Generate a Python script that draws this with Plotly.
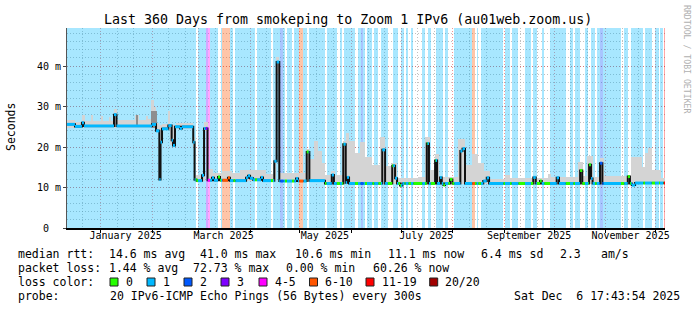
import pandas as pd
import plotly.graph_objects as go

# ---------------- data ----------------
end_time = "2025-12-06 17:43:54"
span_days = 360

loss_names = ["0", "1", "2", "3", "4-5", "6-10", "11-19", "20/20"]
loss_colors = ["#26ff00", "#00b8ff", "#0059ff", "#7e00ff", "#ff00ff", "#ff5500", "#ff0000", "#a10000"]

# loss periods: start (days after graph start) and loss colour index
loss_start_day = [0.0, 77.4, 78.9, 83.5, 84.8, 86.1, 90.9, 92.7, 93.6, 98.1, 100.1, 101.4, 113.2, 114.4,
                  122.8, 124.0, 128.5, 130.2, 131.2, 132.4, 135.5, 136.8, 139.8, 142.3, 144.2, 145.5,
                  155.3, 156.3, 162.4, 164.3, 165.6, 166.5, 173.4, 175.2, 176.8, 178.4, 179.4, 180.6,
                  183.8, 185.0, 187.4, 189.0, 193.1, 196.4, 199.4, 201.1, 203.1, 203.9, 205.5, 207.1,
                  208.5, 213.9, 215.5, 217.1, 218.9, 222.0, 226.5, 227.6, 229.5, 233.2, 244.0, 245.6,
                  246.6, 247.6, 249.2, 262.7, 263.7, 266.7, 267.7, 271.7, 275.7, 279.3, 280.7, 282.8,
                  285.8, 287.3, 290.8, 300.2, 302.8, 304.8, 305.8, 308.8, 311.8, 313.8, 315.4, 317.9,
                  318.9, 320.6, 322.9, 333.5, 335.5, 337.5, 339.5, 346.9, 348.0, 352.0, 354.0, 356.4,
                  357.0, 359.0, 359.3]
loss_level = [1, 0, 1, 3, 4, 1, 0, 1, 5, 1, 0, 1, 0, 1,
              0, 1, 2, 1, 0, 1, 0, 1, 5, 1, 0, 1,
              0, 1, 0, 1, 0, 1, 0, 1, 2, 1, 0, 1,
              0, 1, 0, 1, 0, 1, 0, 1, 0, 1, 0, 1,
              0, 1, 0, 1, 0, 1, 0, 1, 0, 1, 5, 0,
              1, 0, 1, 0, 1, 0, 1, 0, 1, 0, 1, 0,
              1, 0, 1, 0, 1, 0, 1, 0, 1, 0, 1, 0,
              1, 2, 1, 0, 1, 0, 1, 0, 1, 0, 1, 0,
              1, 0, 6]

# median RTT (step changes)
median_day = [0.0, 4.8, 9.0, 10.2, 28.3, 29.8, 51.2, 53.6, 55.6, 56.3, 57.2, 61.0, 63.0, 63.8, 65.0,
              68.0, 69.2, 76.0, 76.8, 78.1, 81.3, 82.5, 84.6, 87.3, 88.5, 90.9, 92.1, 96.9, 98.1,
              107.8, 109.0, 110.2, 112.0, 116.8, 118.0, 124.8, 126.2, 127.8, 137.9, 139.1, 144.3,
              145.9, 155.3, 159.4, 160.7, 166.3, 167.8, 168.6, 169.8, 189.8, 191.5, 195.8, 197.5,
              198.7, 200.5, 201.9, 216.6, 217.9, 221.6, 222.8, 224.6, 225.6, 226.6, 227.6, 230.6,
              232.0, 236.8, 238.1, 239.6, 250.6, 252.7, 254.1, 280.7, 282.2, 284.8, 285.8, 294.8,
              296.2, 308.9, 310.2, 314.3, 315.5, 316.4, 320.9, 322.3, 337.6, 338.9, 340.0, 342.0, 360.0]
median_ms = [25.6, 25.1, 26.0, 25.2, 28.0, 25.2, 25.6, 24.0, 12.0, 21.2, 24.5, 25.3, 21.7, 20.4, 25.0,
             24.6, 25.0, 21.2, 11.9, 11.7, 13.0, 24.6, 11.8, 12.4, 11.8, 12.6, 11.8, 12.4, 11.7,
             12.4, 12.9, 12.3, 11.9, 12.5, 11.7, 16.5, 41.0, 11.6, 12.2, 11.6, 18.8,
             11.7, 11.0, 13.1, 11.0, 20.7, 11.2, 12.5, 11.0, 19.3, 11.0, 15.4, 12.3,
             11.0, 10.5, 11.0, 20.9, 11.0, 16.7, 11.0, 12.5, 11.0, 10.6, 11.0, 12.0,
             11.0, 19.0, 19.6, 11.0, 11.6, 12.4, 11.0, 12.5, 11.0, 11.6, 11.0, 12.4,
             11.0, 14.2, 11.0, 15.6, 12.2, 11.0, 16.0, 11.0, 12.7, 11.0, 10.6, 11.1, 11.1]

# smoke (spread of the 20 pings): edges, low and high values
smoke_edge_day = [0.0, 4.8, 9.0, 10.8, 14.4, 15.7, 20.5, 21.7, 25.3, 26.5, 28.0, 30.1, 40.9, 43.3, 47.6,
                  48.8, 50.6, 52.1, 53.6, 55.4, 57.2, 60.8, 62.0, 65.6, 75.9, 77.1, 81.9, 82.5, 84.6,
                  87.9, 93.3, 99.3, 104.2, 119.8, 124.6, 126.1, 127.9, 143.9, 146.3, 148.7, 151.1,
                  153.5, 155.3, 158.9, 161.3, 166.2, 168.0, 169.8, 173.4, 176.4, 179.4, 183.6, 188.4,
                  191.4, 195.4, 198.7, 211.3, 215.5, 218.5, 221.6, 223.7, 235.4, 239.6, 243.8, 247.4,
                  251.1, 254.7, 263.7, 266.7, 289.6, 291.4, 307.6, 310.7, 313.1, 316.7, 320.9, 323.0,
                  339.6, 346.2, 348.0, 349.8, 351.9, 357.6, 360.0]
smoke_hi_ms = [26.8, 26.3, 28.0, 26.5, 27.8, 26.4, 27.6, 26.4, 27.5, 26.5, 29.5, 26.6, 27.8, 26.6,
               27.6, 27.0, 31.5, 30.0, 26.0, 25.5, 25.6, 28.8, 25.5, 25.9, 22.5, 13.2, 13.4, 26.3,
               14.5, 13.6, 14.0, 13.5, 14.3, 13.3, 17.0, 42.3, 13.5, 19.5, 17.0, 21.5, 19.0, 16.0,
               13.0, 14.0, 13.0, 21.5, 23.4, 21.5, 18.5, 21.3, 17.6, 15.5, 22.5, 15.2, 16.0, 12.3,
               12.6, 22.4, 14.4, 18.4, 12.6, 22.1, 15.5, 18.4, 16.0, 14.0, 12.2, 13.1, 12.3, 13.4,
               12.5, 16.3, 12.8, 17.9, 12.7, 17.4, 12.8, 17.5, 15.0, 18.5, 19.7, 14.4, 12.4]
smoke_lo_ms = [24.8, 24.8, 24.8, 24.8, 24.8, 24.8, 24.8, 24.8, 24.8, 24.8, 24.8, 24.8, 24.8, 24.8,
               24.8, 24.8, 24.8, 24.8, 23.8, 21.0, 24.3, 24.3, 20.4, 24.5, 20.0, 11.5, 11.5, 24.0,
               11.5, 11.5, 11.5, 11.5, 11.5, 11.5, 11.5, 38.0, 11.4, 11.4, 11.3, 11.3, 11.3, 11.3,
               10.8, 10.8, 10.8, 10.8, 10.8, 10.8, 10.8, 10.8, 10.8, 10.8, 10.8, 10.8, 10.8, 10.8,
               10.8, 10.8, 10.8, 10.8, 10.8, 10.8, 10.8, 10.8, 10.8, 10.8, 10.8, 10.8, 10.8, 10.8,
               10.8, 10.8, 10.8, 10.8, 10.8, 10.8, 10.8, 10.8, 10.8, 10.8, 10.8, 10.8, 10.8]
dark_smoke_start_day = [41.5, 50.8]
dark_smoke_end_day = [42.9, 53.9]
dark_smoke_lo_ms = [25.0, 24.8]
dark_smoke_hi_ms = [27.8, 28.8]

y_top_ms = 49.4
y_tick_vals = [0, 10, 20, 30, 40]
y_tick_text = ["0\u00a0\u00a0", "10 m", "20 m", "30 m", "40 m"]
month_starts = ["2025-01-01", "2025-02-01", "2025-03-01", "2025-04-01", "2025-05-01", "2025-06-01",
                "2025-07-01", "2025-08-01", "2025-09-01", "2025-10-01", "2025-11-01", "2025-12-01"]
x_label_dates = ["2025-01-16", "2025-03-16", "2025-05-16", "2025-07-16", "2025-09-16", "2025-11-16"]
x_label_text = ["January 2025", "March 2025", "May 2025", "July 2025", "September 2025", "November 2025"]

title_text = "Last 360 Days from smokeping to Zoom 1 IPv6 (au01web.zoom.us)"
rtt_label = "median rtt:"
rtt_stats = ["14.6 ms avg", "41.0 ms max", "10.6 ms min", "11.1 ms now", "6.4 ms sd", "2.3", "am/s"]
loss_label = "packet loss:"
loss_stats = ["1.44 % avg", "72.73 % max", "0.00 % min", "60.26 % now"]
color_label = "loss color:"
probe_label = "probe:"
probe_text = "20 IPv6-ICMP Echo Pings (56 Bytes) every 300s"
stamp_text = "Sat Dec\u00a0\u00a06 17:43:54 2025"
side_text = "RRDTOOL / TOBI OETIKER"

# ---------------- helpers ----------------
t_end = pd.Timestamp(end_time)
t_start = t_end - pd.Timedelta(days=span_days)
DAY_MS = 86400000.0


def tt(d):
    return t_start + pd.Timedelta(days=d)


def rgba(hexc, a):
    h = hexc.lstrip("#")
    return "rgba(%d,%d,%d,%.2f)" % (int(h[0:2], 16), int(h[2:4], 16), int(h[4:6], 16), a)


fig = go.Figure()

# loss background stripes
loss_end_day = loss_start_day[1:] + [span_days]
bx, bw, bc = [], [], []
for s, e, lvl in zip(loss_start_day, loss_end_day, loss_level):
    if lvl == 0:
        continue
    bx.append(tt((s + e) / 2))
    bw.append((e - s) * DAY_MS)
    bc.append(rgba(loss_colors[lvl], 0.34))
fig.add_trace(go.Bar(x=bx, y=[y_top_ms] * len(bx), base=0, width=bw,
                     marker=dict(color=bc, line=dict(width=0)), hoverinfo="skip"))

# smoke
sx, sw, sb, sh = [], [], [], []
for i in range(len(smoke_hi_ms)):
    s, e = smoke_edge_day[i], smoke_edge_day[i + 1]
    sx.append(tt((s + e) / 2))
    sw.append((e - s) * DAY_MS)
    sb.append(smoke_lo_ms[i])
    sh.append(smoke_hi_ms[i] - smoke_lo_ms[i])
fig.add_trace(go.Bar(x=sx, y=sh, base=sb, width=sw,
                     marker=dict(color="#d4d4d4", line=dict(width=0)), hoverinfo="skip"))
dx = [tt((s + e) / 2) for s, e in zip(dark_smoke_start_day, dark_smoke_end_day)]
dw = [(e - s) * DAY_MS for s, e in zip(dark_smoke_start_day, dark_smoke_end_day)]
dh = [h - l for h, l in zip(dark_smoke_hi_ms, dark_smoke_lo_ms)]
fig.add_trace(go.Bar(x=dx, y=dh, base=dark_smoke_lo_ms, width=dw,
                     marker=dict(color="#8e8e8e", line=dict(width=0)), hoverinfo="skip"))

# median line (black steps)
fig.add_trace(go.Scatter(x=[tt(d) for d in median_day], y=median_ms, mode="lines",
                         line=dict(color="#111111", width=2, shape="hv"), hoverinfo="skip"))

# median coloured by loss
seg_x = {k: [] for k in range(len(loss_colors))}
seg_y = {k: [] for k in range(len(loss_colors))}
for i in range(len(median_day) - 1):
    a, b, v = median_day[i], median_day[i + 1], median_ms[i]
    for s, e, lvl in zip(loss_start_day, loss_end_day, loss_level):
        lo, hi = max(a, s), min(b, e)
        if hi > lo:
            seg_x[lvl] += [tt(lo), tt(hi), None]
            seg_y[lvl] += [v, v, None]
for lvl in seg_x:
    if seg_x[lvl]:
        fig.add_trace(go.Scatter(x=seg_x[lvl], y=seg_y[lvl], mode="lines",
                                 line=dict(color=loss_colors[lvl], width=3), hoverinfo="skip"))

# axis arrows
fig.add_trace(go.Scatter(x=[t_start, tt(span_days + 3.0)], y=[y_top_ms + 1.0, 0],
                         xaxis="x2", mode="markers", cliponaxis=False,
                         marker=dict(symbol=["triangle-up", "triangle-right"], size=7, color="#7a0000"),
                         hoverinfo="skip"))

GRID_MAJOR = "rgba(230,60,60,0.55)"
GRID_MINOR = "rgba(140,140,140,0.55)"
DOT = "1px,2px"
FONT = "DejaVu Sans Mono"

minor_dates = ["2024-12-21"]
for m in month_starts[:-1]:
    minor_dates += [m[:8] + "11", m[:8] + "21"]

fig.update_layout(
    width=697, height=310,
    margin=dict(l=67, r=32, t=28, b=82),
    paper_bgcolor="white", plot_bgcolor="white",
    barmode="overlay", bargap=0, showlegend=False,
    font=dict(family=FONT, color="black", size=10),
    xaxis=dict(type="date", range=[t_start, t_end], tickmode="array", tickvals=month_starts,
               ticktext=[""] * len(month_starts), ticks="outside", ticklen=3, tickcolor="black",
               showgrid=True, gridcolor=GRID_MAJOR, griddash=DOT, gridwidth=1,
               showline=True, linecolor="black", linewidth=2, zeroline=False,
               minor=dict(tickmode="array", tickvals=minor_dates, showgrid=True,
                          gridcolor=GRID_MINOR, griddash=DOT, gridwidth=1, ticks="")),
    xaxis2=dict(type="date", range=[t_start, t_end], overlaying="x", anchor="y", side="bottom",
                tickmode="array", tickvals=x_label_dates, ticktext=x_label_text, ticks="",
                showgrid=False, showline=False, zeroline=False,
                tickfont=dict(family=FONT, size=10, color="black")),
    yaxis=dict(range=[0, y_top_ms], tickmode="array", tickvals=y_tick_vals, ticktext=y_tick_text,
               ticks="outside", ticklen=3, tickcolor="#444444",
               showgrid=True, gridcolor=GRID_MAJOR, griddash=DOT, gridwidth=1,
               showline=True, linecolor="#555555", linewidth=1, zeroline=False,
               tickfont=dict(family=FONT, size=10, color="black"),
               minor=dict(dtick=2, showgrid=True, gridcolor=GRID_MINOR, griddash=DOT, gridwidth=1, ticks="")),
)

W, H, L, R, T, B = 697, 310, 67, 665, 28, 228


def px(xp):
    return (xp - L) / (R - L)


def py(yp):
    return (B - yp) / (B - T)


ann = []


def text(xp, yp, s, size=11.5, anchor="left", color="black", angle=0):
    ann.append(dict(x=px(xp), y=py(yp), xref="paper", yref="paper", text=s, showarrow=False,
                    xanchor=anchor, yanchor="middle", borderpad=0, textangle=angle,
                    font=dict(family=FONT, size=size, color=color)))


text(347.5, 19, title_text, size=13.3, anchor="center")
text(11, 127, "Seconds", size=11.5, anchor="center", angle=-90)
text(687, 59, side_text, size=8.2, anchor="center", color="#b0b0b0", angle=90)

line1_x = [108, 199, 294.3, 387, 479.7, 558.7, 600.3]
text(16.5, 254.3, rtt_label)
for xp, s in zip(line1_x, rtt_stats):
    text(xp, 254.3, s)
line2_x = [108, 191.5, 284.5, 372]
text(16.5, 268.3, loss_label)
for xp, s in zip(line2_x, loss_stats):
    text(xp, 268.3, s)
text(16.5, 281.7, color_label)
sq_x = [110, 147, 184, 221, 259, 309.5, 366, 429.7]
shapes = []
for xp, name, col in zip(sq_x, loss_names, loss_colors):
    shapes.append(dict(type="rect", xref="paper", yref="paper", x0=px(xp), x1=px(xp + 8),
                       y0=py(286), y1=py(278), fillcolor=col, line=dict(color="#222222", width=1)))
    text(xp + 14.5, 281.7, name)
text(16.5, 295.7, probe_label)
text(108.5, 295.7, probe_text)
text(680.5, 295.7, stamp_text, anchor="right")

fig.update_layout(annotations=ann, shapes=shapes)
fig.write_html("out.html")
